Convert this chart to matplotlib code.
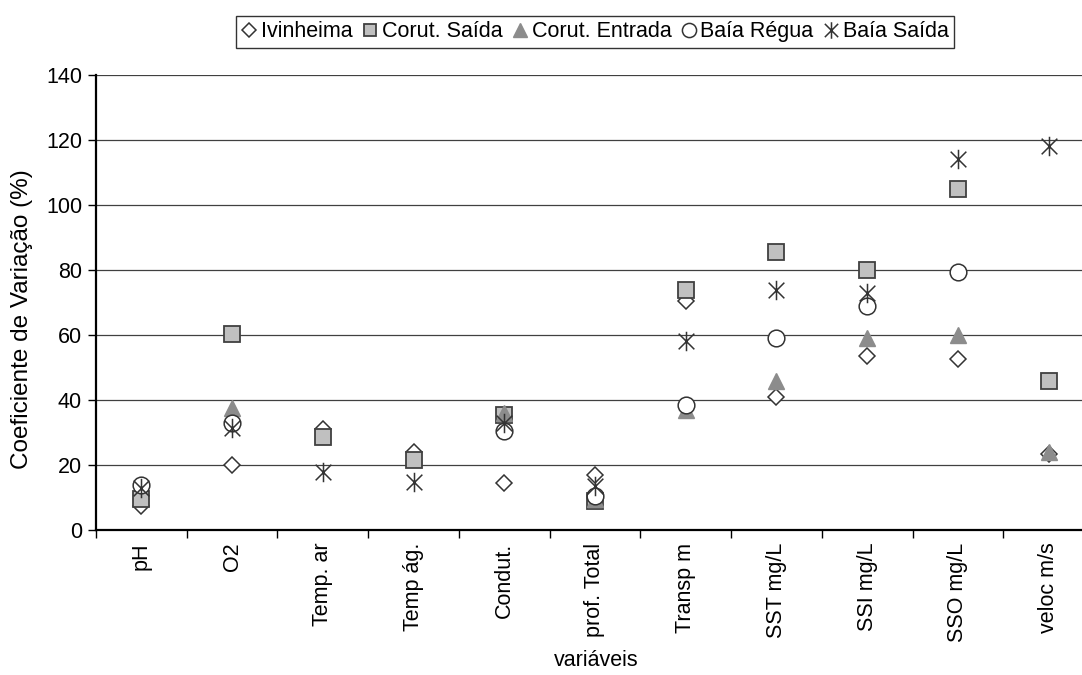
import numpy as np
import matplotlib
matplotlib.use("Agg")
import matplotlib.pyplot as plt
from matplotlib.path import Path

plt.rcParams['font.family'] = ['Liberation Sans', 'DejaVu Sans']

# categories on the x axis
variaveis = ["pH", "O2", "Temp. ar", "Temp ág.", "Condut.", "prof. Total",
             "Transp m", "SST mg/L", "SSI mg/L", "SSO mg/L", "veloc m/s"]

# coefficient of variation (%) per station
nan = np.nan
ivinheima = [7.5, 20, 31, 24, 14.5, 17, 70.5, 41, 53.5, 52.5, 23.5]
corut_saida = [9.5, 60.3, 28.5, 21.5, 35.5, 9, 74, 85.5, 80, 105, 46]
corut_entrada = [nan, 37.5, nan, nan, 36, 9.5, 37, 46, 59, 60, 24]
baia_regua = [14, 33, nan, nan, 30.5, 10.5, 38.5, 59, 69, 79.3, nan]
baia_saida = [13, 31.5, 18, 14.8, 33, 13.5, 58.3, 74, 72.8, 114, 118.3]

# excel style asterisk: an X plus a vertical bar
d = 0.5
asterisk = Path([(-d, -d), (d, d), (-d, d), (d, -d), (0, -0.62), (0, 0.62)],
                [Path.MOVETO, Path.LINETO, Path.MOVETO, Path.LINETO, Path.MOVETO, Path.LINETO])

fs = 15.5

fig = plt.figure(figsize=(10.82, 6.75), dpi=100)
ax = fig.add_axes([0.0887, 0.2148, 0.9224, 0.6741])

x = np.arange(len(variaveis))
edge = "#333333"
ax.plot(x, ivinheima, "D", ms=8, mfc="white", mec=edge, mew=1.1, label="Ivinheima", zorder=3)
ax.plot(x, corut_saida, "s", ms=11, mfc="#C0C0C0", mec="#404040", mew=1.3, label="Corut. Saída", zorder=3)
ax.plot(x, corut_entrada, "^", ms=12, mfc="#8C8C8C", mec="#8C8C8C", mew=1, label="Corut. Entrada", zorder=3)
ax.plot(x, baia_regua, "o", ms=12, mfc="white", mec=edge, mew=1.1, label="Baía Régua", zorder=3)
ax.plot(x, baia_saida, marker=asterisk, ls="none", ms=14, mfc="none", mec=edge, mew=1.1, label="Baía Saída", zorder=3)

ax.set_xlim(-0.5, len(variaveis) - 0.5)
ax.set_ylim(0, 140)
ax.set_yticks(range(0, 141, 20))
ax.yaxis.grid(True, color="#404040", lw=0.9)
ax.set_axisbelow(True)

ax.set_xticks(np.arange(-0.5, len(variaveis)), labels=[])
ax.set_xticks(x, labels=variaveis, minor=True, rotation=90, fontsize=fs)
ax.tick_params(axis="x", which="major", direction="out", length=6, width=1)
ax.tick_params(axis="x", which="minor", length=0, pad=9)
ax.tick_params(axis="y", direction="out", length=6, width=1, labelsize=fs, pad=4)

for s in ["top", "right"]:
    ax.spines[s].set_visible(False)
ax.spines["left"].set_linewidth(1.6)
ax.spines["bottom"].set_linewidth(1.6)

fig.text(0.0203, 0.527, "Coeficiente de Variação (%)", rotation=90, ha="center", va="center", fontsize=17.5)
fig.text(0.551, 0.021, "variáveis", ha="center", va="center", fontsize=fs)

leg = fig.legend(loc="center", bbox_to_anchor=(0.55, 0.953), ncol=5, frameon=True,
                 fontsize=fs, markerscale=0.85, handlelength=0.7, handletextpad=0.2,
                 columnspacing=0.45, borderpad=0.25, fancybox=False, borderaxespad=0)
leg.get_frame().set_edgecolor("black")
leg.get_frame().set_linewidth(1)

fig.savefig("out.png", dpi=100)
